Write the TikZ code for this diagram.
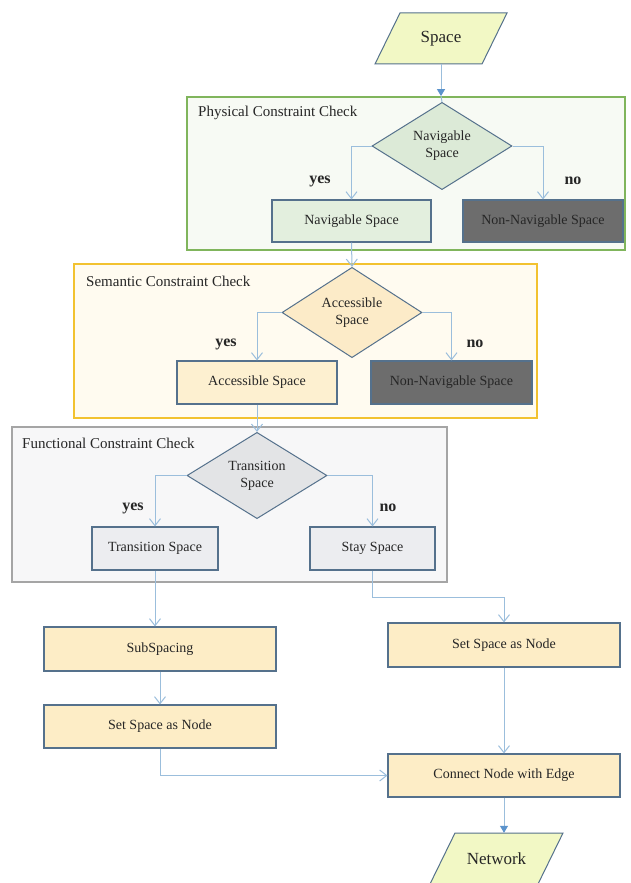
\documentclass[tikz,border=0pt]{standalone}
\usepackage{fontspec}
\setmainfont{Liberation Serif}
\usetikzlibrary{shapes.geometric,arrows.meta}
\definecolor{paraFill}{HTML}{F2F8C5}
\definecolor{edgeC}{HTML}{55718C}
\definecolor{flowC}{HTML}{9BBEDC}
\definecolor{flowDark}{HTML}{5B93CC}
\definecolor{greenB}{HTML}{80B55C}
\definecolor{greenBg}{HTML}{F7FAF4}
\definecolor{greenD}{HTML}{DCEAD7}
\definecolor{greenBox}{HTML}{E3EFDE}
\definecolor{darkFill}{HTML}{6D6D6D}
\definecolor{yelB}{HTML}{F2C230}
\definecolor{yelBg}{HTML}{FFFBF0}
\definecolor{yelD}{HTML}{FCEBC8}
\definecolor{yelBox}{HTML}{FDF0D0}
\definecolor{grayB}{HTML}{A5A5A5}
\definecolor{grayBg}{HTML}{F7F7F8}
\definecolor{grayD}{HTML}{E3E4E6}
\definecolor{grayBox}{HTML}{ECEDF0}
\definecolor{botBox}{HTML}{FDEDC6}
\definecolor{txt}{HTML}{262626}
\tikzset{
  grp/.style={draw, line width=1.8pt, rectangle, inner sep=0pt},
  grplabel/.style={anchor=west, inner sep=0pt, text=txt, font=\fontsize{15}{18}\selectfont},
  dec/.style={diamond, draw=edgeC, line width=1pt, inner sep=0pt, minimum width=140pt, minimum height=84pt, align=center, text=txt, font=\fontsize{14}{17}\selectfont},
  box/.style={rectangle, draw=edgeC, line width=1.1pt, inner sep=0pt, align=center, text=txt, font=\fontsize{14}{17}\selectfont},
  para/.style={draw=edgeC, line width=1pt, fill=paraFill},
  ptext/.style={inner sep=0pt, minimum width=107pt, minimum height=51pt, text=txt, font=\fontsize{17}{20}\selectfont},
  flow/.style={draw=flowC, line width=1pt, -{Straight Barb[length=7pt,width=11pt]}},
  flowline/.style={draw=flowC, line width=1pt},
  flowfill/.style={draw=flowC, line width=1pt, -{Triangle[length=7pt,width=8pt,fill=flowDark,color=flowDark]}},
  yn/.style={inner sep=0pt, text=txt, font=\fontsize{16}{19}\selectfont\bfseries}
}
\begin{document}
\begin{tikzpicture}[x=1pt,y=-1pt]
\useasboundingbox (0,0) rectangle (630,883);
\fill[white] (0,0) rectangle (630,883);
% groups
\node[grp, draw=greenB, fill=greenBg, minimum width=438pt, minimum height=153pt] (g1) at (406,173.5) {};
\node[grp, draw=yelB, fill=yelBg, minimum width=463pt, minimum height=154pt] (g2) at (305.5,341) {};
\node[grp, draw=grayB, fill=grayBg, minimum width=435pt, minimum height=155pt] (g3) at (229.5,504.5) {};
\node[grplabel] (l1) at (198,113) {Physical Constraint Check};
\node[grplabel] (l2) at (86,281) {Semantic Constraint Check};
\node[grplabel] (l3) at (22,443) {Functional Constraint Check};
% input
\draw[para] (375,64) -- (400,13) -- (507,13) -- (482,64) -- cycle;
\node[ptext] (space) at (441,38.5) {Space};
% physical
\node[dec, fill=greenD] (d1) at (442,146) {Navigable\\Space};
\node[box, fill=greenBox, minimum width=159pt, minimum height=42pt] (b1) at (351.5,221) {Navigable Space};
\node[box, fill=darkFill, text=black!85, minimum width=160pt, minimum height=42pt] (n1) at (543,221) {Non-Navigable Space};
% semantic
\node[dec, fill=yelD] (d2) at (352,312.5) {Accessible\\Space};
\node[box, fill=yelBox, minimum width=160pt, minimum height=43pt] (b2) at (257,382.5) {Accessible Space};
\node[box, fill=darkFill, text=black!85, minimum width=161pt, minimum height=43pt] (n2) at (451.5,382.5) {Non-Navigable Space};
% functional
\node[dec, fill=grayD] (d3) at (257,475.5) {Transition\\Space};
\node[box, fill=grayBox, minimum width=126pt, minimum height=43pt] (b3) at (155,548.5) {Transition Space};
\node[box, fill=grayBox, minimum width=125pt, minimum height=43pt] (s3) at (372.5,548.5) {Stay Space};
% bottom
\node[box, fill=botBox, minimum width=232pt, minimum height=44pt] (sub) at (160,649) {SubSpacing};
\node[box, fill=botBox, minimum width=232pt, minimum height=43pt] (setL) at (160,726.5) {Set Space as Node};
\node[box, fill=botBox, minimum width=232pt, minimum height=44pt] (setR) at (504,645) {Set Space as Node};
\node[box, fill=botBox, minimum width=232pt, minimum height=43pt] (conn) at (504,775.5) {Connect Node with Edge};
\draw[para] (430,884) -- (455,833) -- (563,833) -- (538,884) -- cycle;
\node[ptext] (net) at (496.5,858.5) {Network};
% yes / no
\node[yn] (y1) at (320,181) {yes};
\node[yn] (o1) at (573,181) {no};
\node[yn] (y2) at (226,344) {yes};
\node[yn] (o2) at (475,344) {no};
\node[yn] (y3) at (133,508) {yes};
\node[yn] (o3) at (388,508) {no};
% connectors
\draw[flowfill] (space.south) -- (space.south |- g1.north);
\draw[flowline] (space.south |- g1.north) -- (d1.north);
\draw[flow] (d1.west) -| (b1.north);
\draw[flow] (d1.east) -| (n1.north);
\draw[flow] (b1.south) -- (d2.north);
\draw[flow] (d2.west) -| (b2.north);
\draw[flow] (d2.east) -| (n2.north);
\draw[flow] (b2.south) -- (d3.north);
\draw[flow] (d3.west) -| (b3.north);
\draw[flow] (d3.east) -| (s3.north);
\draw[flow] (b3.south) -- (b3.south |- sub.north);
\draw[flow] (s3.south) -- ++(0,27) -| (setR.north);
\draw[flow] (sub.south) -- (setL.north);
\draw[flow] (setR.south) -- (conn.north);
\draw[flow] (setL.south) |- (conn.west);
\draw[flowfill] (conn.south) -- (conn.south |- net.north);
\end{tikzpicture}
\end{document}
